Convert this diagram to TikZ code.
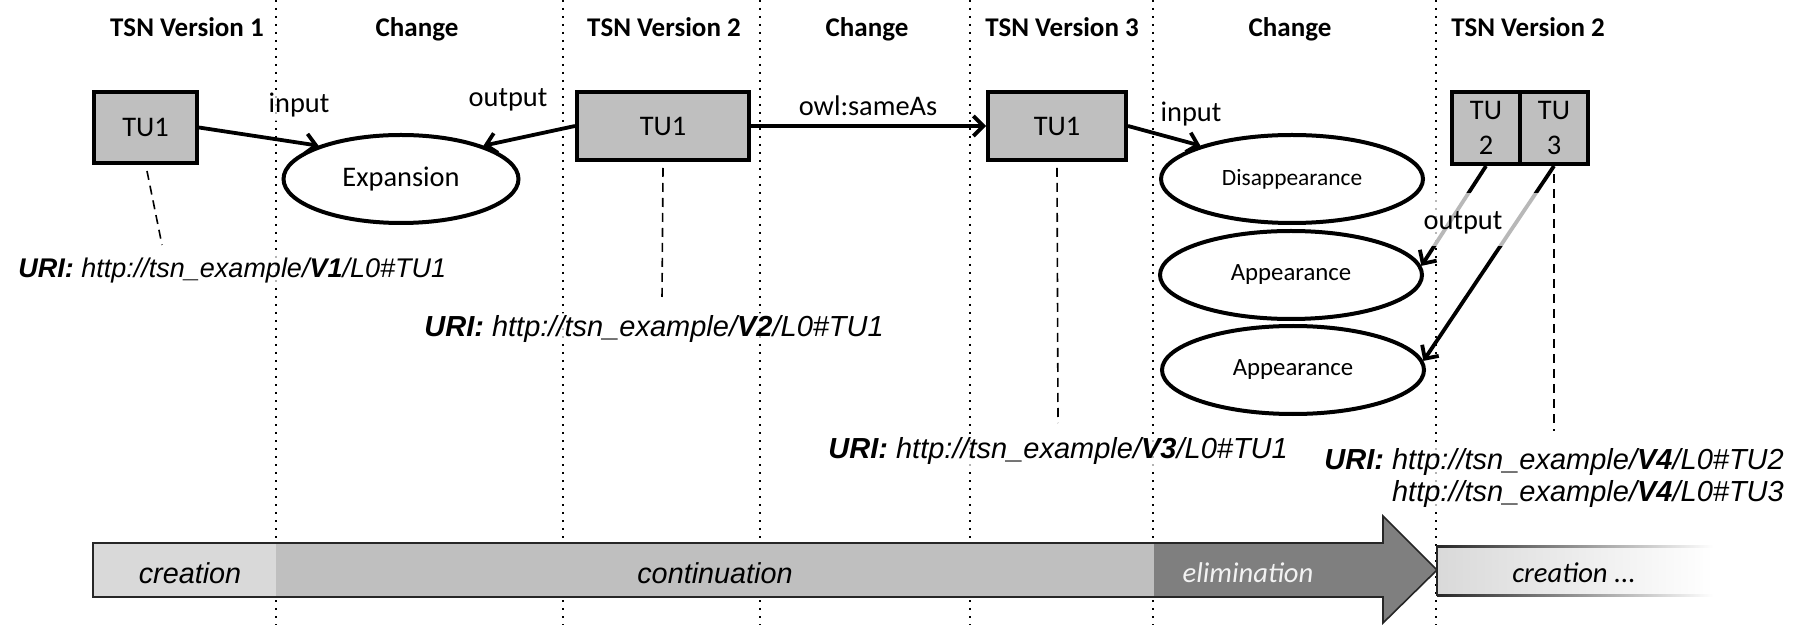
\documentclass[tikz,border=0pt]{standalone}
\usepackage{fontspec}
\setmainfont{Carlito}
\newfontfamily\arialfont{Liberation Sans}
\usetikzlibrary{arrows.meta,shapes.geometric}
\definecolor{boxgray}{HTML}{BFBFBF}
\definecolor{lightbar}{HTML}{D9D9D9}
\definecolor{darkbar}{HTML}{7F7F7F}
\definecolor{elimtext}{HTML}{F2F2F2}
\begin{document}
\begin{tikzpicture}[x=0.5pt,y=-0.5pt,
  tubox/.style={draw, line width=2pt, fill=boxgray, inner sep=0pt, font=\fontsize{14.2}{17.5}\selectfont},
  chg/.style={ellipse, draw, line width=2pt, fill=white, inner sep=0pt, minimum height=44pt},
  hdr/.style={font=\bfseries\fontsize{13.5}{16}\selectfont, anchor=base},
  lbl/.style={font=\fontsize{14.2}{17}\selectfont, anchor=base, fill=white, fill opacity=0.7, text opacity=1, inner sep=1.5pt},
  conn/.style={line width=1.9pt, -{Straight Barb[length=5pt,width=10pt,line width=1.9pt]}},
  leader/.style={line width=0.8pt, dash pattern=on 4.5pt off 3pt},
  sep/.style={line width=1pt, dash pattern=on 1pt off 3pt},
  uri/.style={font=\arialfont\itshape\fontsize{14.5}{17}\selectfont, anchor=base west, fill=white, fill opacity=0.7, text opacity=1, inner sep=1pt},
  bartext/.style={font=\arialfont\itshape\fontsize{14.4}{17}\selectfont, anchor=base},
  bartextc/.style={font=\itshape\fontsize{14.3}{17}\selectfont, anchor=base}
]
\useasboundingbox (0,0) rectangle (1803,625);

% column separators
\foreach \x/\n in {276/s1,563/s2,760/s3,970/s4,1153/s5,1436/s6}{
  \coordinate (\n t) at (\x,0);
  \coordinate (\n b) at (\x,625);
  \draw[sep] (\n t) -- (\n b);
}

% headers
\node[hdr] (h1) at (187,37) {TSN Version 1};
\node[hdr] (h2) at (417,37) {Change};
\node[hdr] (h3) at (664,37) {TSN Version 2};
\node[hdr] (h4) at (867,37) {Change};
\node[hdr] (h5) at (1062,37) {TSN Version 3};
\node[hdr] (h6) at (1290,37) {Change};
\node[hdr] (h7) at (1528,37) {TSN Version 2};

% timeline bar
\fill[lightbar] (93,543) rectangle (276,597);
\fill[boxgray] (276,543) rectangle (1154,597);
\fill[darkbar] (1154,543) -- (1383,543) -- (1383,516) -- (1437,570) -- (1383,623) -- (1383,597) -- (1154,597) -- cycle;
\draw[line width=0.8pt, black!85] (93,543) -- (1383,543) -- (1383,516) -- (1437,570) -- (1383,623) -- (1383,597) -- (93,597) -- cycle;
\shade[left color=lightbar, right color=white] (1437,546) rectangle (1713,595);
\shade[left color=black!85, right color=white] (1437,545) rectangle (1713,547);
\shade[left color=black!85, right color=white] (1437,594) rectangle (1713,596);
\draw[line width=0.8pt, black!85] (1437,545) -- (1437,596);
\node[bartext] (tcre) at (190,583) {creation};
\node[bartext] (tcon) at (715,583) {continuation};
\node[bartextc, text=elimtext] (telim) at (1248,582) {elimination};
\node[bartextc] (tcre2) at (1574,582) {creation ...};

% TU boxes
\node[tubox, minimum width=51.5pt, minimum height=35.5pt] (b1) at (145.5,127.5) {TU1};
\node[tubox, minimum width=86pt, minimum height=34pt] (b2) at (663,126) {TU1};
\node[tubox, minimum width=69pt, minimum height=34pt] (b3) at (1057,126) {TU1};
\node[tubox, minimum width=34pt, minimum height=36pt, align=center] (tu2) at (1486,128) {TU\\2};
\node[tubox, minimum width=34pt, minimum height=36pt, align=center] (tu3) at (1554,128) {TU\\3};

% change ellipses
\node[chg, minimum width=117.5pt, font=\fontsize{14.2}{17}\selectfont] (exp) at (401,179) {Expansion};
\node[chg, minimum width=131pt, font=\fontsize{11.7}{14}\selectfont] (dis) at (1292,179) {Disappearance};
\node[chg, minimum width=131pt, font=\fontsize{12.4}{15}\selectfont] (app1) at (1291,275) {Appearance};
\node[chg, minimum width=131pt, font=\fontsize{12.4}{15}\selectfont] (app2) at (1293,370) {Appearance};

% connectors
\draw[conn] (b1.east) -- (exp.158);
\draw[conn] (b2.west) -- (exp.22);
\draw[conn] (b2.east) -- (b3.west);
\draw[conn] (b3.east) -- (dis.160);
\draw[conn] (tu2.south) -- (app1.4);
\draw[conn] (tu3.south) -- (app2.4);

% connector labels
\node[lbl] (in1) at (299,113) {input};
\node[lbl] (out1) at (508,107) {output};
\node[lbl] (same) at (868,116) {owl:sameAs};
\node[lbl] (in2) at (1191,122) {input};
\fill[white, fill opacity=0.72] (1430,193) rectangle (1540,246);
\node[lbl, fill=none] (out2) at (1463,230) {output};

% URIs
\coordinate (d1e) at (162,245);
\coordinate (d2e) at (662,299);
\coordinate (d3e) at (1058,423);
\coordinate (d4e) at (1554,431);
\draw[leader] ([shift={(1.5,6)}]b1.south) -- (d1e);
\draw[leader] ([shift={(0,6)}]b2.south) -- (d2e);
\draw[leader] ([shift={(0,6)}]b3.south) -- (d3e);
\draw[leader] ([shift={(0,8)}]tu3.south) -- (d4e);

\node[uri, font=\arialfont\itshape\fontsize{13.5}{16}\selectfont] (u1) at (16,278) {\textbf{URI:} http://tsn\_example/\textbf{V1}/L0\#TU1};
\node[uri] (u2) at (422,336) {\textbf{URI:} http://tsn\_example/\textbf{V2}/L0\#TU1};
\node[uri] (u3) at (826,458) {\textbf{URI:} http://tsn\_example/\textbf{V3}/L0\#TU1};
\node[uri] (u4) at (1322,469) {\textbf{URI:} http://tsn\_example/\textbf{V4}/L0\#TU2};
\node[uri] (u4b) at (1322,501) {\phantom{\textbf{URI:} }http://tsn\_example/\textbf{V4}/L0\#TU3};
\end{tikzpicture}
\end{document}
